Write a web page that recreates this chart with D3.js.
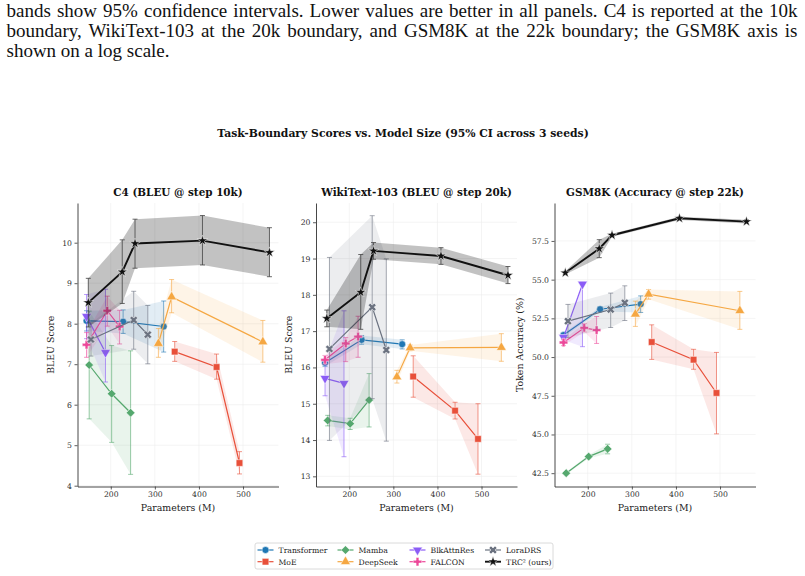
<!DOCTYPE html>
<html>
<head>
<meta charset="utf-8">
<title>Task-Boundary Scores vs. Model Size</title>
<script src="https://cdnjs.cloudflare.com/ajax/libs/d3/7.8.5/d3.min.js"></script>
<style>
  body { margin: 0; background: white; }
  svg { display: block; }
  text { font-family: "DejaVu Serif", serif; }
  .caption { font-family: "Liberation Serif", "Times New Roman", serif; font-size: 19px; fill: #111; }
  .tick text { font-size: 7.7px; fill: #333; font-family: "DejaVu Serif", serif; }
</style>
</head>
<body>
<svg id="fig" width="805" height="576"></svg>
<script>
// caption lines (the first two are justified)
const captionLines = [
  "bands show 95% confidence intervals. Lower values are better in all panels. C4 is reported at the 10k",
  "boundary, WikiText-103 at the 20k boundary, and GSM8K at the 22k boundary; the GSM8K axis is",
  "shown on a log scale."
];

const models = ["Transformer", "MoE", "Mamba", "DeepSeek", "BlkAttnRes", "FALCON", "LoraDRS", "TRC\u00b2 (ours)"];
const colors = ["#1f77b4", "#e8503a", "#55a86e", "#f5a742", "#8b5cf6", "#ec4899", "#6b7280", "#111111"];

// parameter counts (M) per model
const params = [
  [145, 228, 320],
  [345, 440, 492],
  [151, 202, 245],
  [308, 338, 545],
  [145, 188],
  [145, 192, 220],
  [155, 252, 284],
  [149, 226, 255, 408, 560]
];

// C4 (BLEU @ step 10k)
const c4Mean = [
  [8.07, 8.05, 7.93], [7.31, 6.93, 4.56], [6.98, 6.27, 5.80], [7.51, 8.66, 7.55],
  [8.18, 7.29], [7.48, 8.32, 7.93], [7.61, 8.09, 7.73], [8.52, 9.28, 9.98, 10.05, 9.76]
];
const c4Lo = [
  [7.82, 7.76, 7.30], [7.07, 6.63, 4.29], [5.65, 5.07, 4.28], [7.17, 8.27, 7.05],
  [7.63, 6.56], [7.17, 7.94, 7.50], [7.20, 7.37, 7.01], [7.92, 8.50, 9.37, 9.45, 9.16]
];
const c4Hi = [
  [8.32, 8.34, 8.56], [7.56, 7.25, 4.84], [8.31, 7.46, 7.33], [7.88, 9.09, 8.08],
  [8.72, 8.85], [7.78, 8.68, 8.33], [8.02, 8.80, 8.45], [9.12, 10.07, 10.58, 10.67, 10.37]
];

// WikiText-103 (BLEU @ step 20k)
const wtMean = [
  [16.13, 16.76, 16.64], [15.75, 14.81, 14.03], [14.54, 14.45, 15.10], [15.74, 16.54, 16.55],
  [15.70, 15.56], [16.21, 16.66, 16.85], [16.51, 17.66, 16.48], [17.35, 18.07, 19.21, 19.07, 18.54]
];
const wtLo = [
  [16.03, 16.64, 16.51], [15.18, 14.58, 13.06], [14.39, 14.29, 14.36], [15.57, 16.46, 16.17],
  [15.22, 13.54], [16.09, 16.16, 16.28], [13.99, 15.14, 13.97], [17.12, 17.05, 18.98, 18.84, 18.31]
];
const wtHi = [
  [16.23, 16.88, 16.76], [16.32, 15.04, 15.00], [14.68, 14.60, 15.83], [15.92, 16.62, 16.93],
  [16.18, 17.56], [16.33, 16.82, 17.41], [19.03, 20.18, 18.99], [17.58, 19.11, 19.44, 19.30, 18.78]
];

// GSM8K (Accuracy @ step 22k)
const gsmMean = [
  [51.42, 53.09, 53.42], [50.97, 49.83, 47.68], [42.50, 43.57, 44.07], [52.77, 54.06, 52.99],
  [51.27, 54.71], [50.94, 51.89, 51.74], [52.32, 53.07, 53.50], [55.44, 57.00, 57.87, 58.96, 58.75]
];
const gsmLo = [
  [51.30, 52.94, 52.88], [49.85, 49.21, 45.04], [42.42, 43.47, 43.75], [51.98, 53.74, 51.79],
  [51.10, 50.67], [50.74, 51.62, 50.88], [51.25, 51.91, 52.36], [55.34, 56.42, 57.77, 58.86, 58.63]
];
const gsmHi = [
  [51.54, 53.24, 53.95], [52.08, 50.50, 50.30], [42.58, 43.67, 44.37], [53.61, 54.36, 54.24],
  [51.44, 54.85], [51.14, 52.16, 52.62], [53.40, 54.13, 54.60], [55.54, 57.58, 57.97, 59.06, 58.87]
];

const xTicks = [200, 300, 400, 500];
const c4Ticks = [4, 5, 6, 7, 8, 9, 10];
const wtTicks = [13, 14, 15, 16, 17, 18, 19, 20];
const gsmTicks = [42.5, 45, 47.5, 50, 52.5, 55, 57.5];

const panels = [
  {title: "C4 (BLEU @ step 10k)", ylabel: "BLEU Score", mean: c4Mean, lo: c4Lo, hi: c4Hi,
   ydom: [3.98, 10.98], ticks: c4Ticks, fmt: d3.format("d"), left: 77.5, labOff: 24},
  {title: "WikiText-103 (BLEU @ step 20k)", ylabel: "BLEU Score", mean: wtMean, lo: wtLo, hi: wtHi,
   ydom: [12.72, 20.53], ticks: wtTicks, fmt: d3.format("d"), left: 316, labOff: 24},
  {title: "GSM8K (Accuracy @ step 22k)", ylabel: "Token Accuracy (%)", mean: gsmMean, lo: gsmLo, hi: gsmHi,
   ydom: [41.64, 59.95], ticks: gsmTicks, fmt: d3.format(".1f"), left: 554.5, labOff: 32}
];

const W = 201, TOP = 203, BOT = 486.5;
const svg = d3.select("#fig");

// caption
captionLines.forEach((s, i) => {
  const t = svg.append("text").attr("class", "caption")
    .attr("x", 6.5).attr("y", 17 + i * 19.8).text(s);
  if (i < 2) {
    const nat = t.node().getComputedTextLength();
    const spaces = s.split(" ").length - 1;
    t.attr("word-spacing", (791 - nat) / spaces);
  }
});

svg.append("text")
  .attr("x", 403).attr("y", 137)
  .attr("text-anchor", "middle")
  .style("font-weight", "bold").style("font-size", "10.8px").style("fill", "#111")
  .text("Task-Boundary Scores vs. Model Size (95% CI across 3 seeds)");

function symbolFor(i) {
  const types = [d3.symbolCircle, d3.symbolSquare, d3.symbolSquare, d3.symbolTriangle,
                 d3.symbolTriangle, d3.symbolCross, d3.symbolCross, d3.symbolStar];
  const sizes = [38, 44, 38, 42, 42, 40, 40, 34];
  return d3.symbol(types[i], sizes[i])();
}
const rotations = [0, 0, 45, 0, 180, 0, 45, 0];

panels.forEach(p => {
  const g = svg.append("g");
  const x = d3.scaleLinear([124.5, 580.5], [p.left, p.left + W]);
  const y = d3.scaleLinear(p.ydom, [BOT, TOP]);

  // grid
  g.selectAll(".gx").data(xTicks).join("line")
    .attr("x1", d => x(d)).attr("x2", d => x(d)).attr("y1", TOP).attr("y2", BOT)
    .attr("stroke", "#ececec").attr("stroke-width", 0.6);
  g.selectAll(".gy").data(p.ticks).join("line")
    .attr("x1", p.left).attr("x2", p.left + W).attr("y1", d => y(d)).attr("y2", d => y(d))
    .attr("stroke", "#ececec").attr("stroke-width", 0.6);

  // series
  models.forEach((m, i) => {
    const c = colors[i];
    const isOurs = i === 7;
    const pts = params[i].map((v, j) => ({x: v, m: p.mean[i][j], lo: p.lo[i][j], hi: p.hi[i][j]}));
    const sg = g.append("g");

    sg.append("path").datum(pts)
      .attr("d", d3.area().x(d => x(d.x)).y0(d => y(d.lo)).y1(d => y(d.hi)))
      .attr("fill", isOurs ? "#000" : c)
      .attr("fill-opacity", isOurs ? 0.24 : 0.13);

    const eb = sg.selectAll(".eb").data(pts).join("g")
      .attr("stroke", isOurs ? "#444" : c).attr("stroke-opacity", isOurs ? 0.8 : 0.6)
      .attr("stroke-width", 1);
    eb.append("line").attr("x1", d => x(d.x)).attr("x2", d => x(d.x))
      .attr("y1", d => y(d.lo)).attr("y2", d => y(d.hi));
    eb.append("line").attr("x1", d => x(d.x) - 2.5).attr("x2", d => x(d.x) + 2.5)
      .attr("y1", d => y(d.lo)).attr("y2", d => y(d.lo));
    eb.append("line").attr("x1", d => x(d.x) - 2.5).attr("x2", d => x(d.x) + 2.5)
      .attr("y1", d => y(d.hi)).attr("y2", d => y(d.hi));

    sg.append("path").datum(pts)
      .attr("d", d3.line().x(d => x(d.x)).y(d => y(d.m)))
      .attr("fill", "none").attr("stroke", c)
      .attr("stroke-width", isOurs ? 1.9 : 1.2);

    sg.selectAll(".mk").data(pts).join("path")
      .attr("d", symbolFor(i))
      .attr("transform", d => `translate(${x(d.x)},${y(d.m)}) rotate(${rotations[i]})`)
      .attr("fill", c).attr("stroke", "white").attr("stroke-width", 0.5);
  });

  // axes
  const ax = g.append("g").attr("transform", `translate(0,${BOT})`)
    .call(d3.axisBottom(x).tickValues(xTicks).tickSize(3).tickSizeOuter(0).tickPadding(2.5));
  const ay = g.append("g").attr("transform", `translate(${p.left},0)`)
    .call(d3.axisLeft(y).tickValues(p.ticks).tickFormat(p.fmt).tickSize(3).tickSizeOuter(0).tickPadding(2.5));
  [ax, ay].forEach(a => {
    a.select(".domain").attr("stroke", "#333").attr("stroke-width", 0.9);
    a.selectAll(".tick line").attr("stroke", "#333").attr("stroke-width", 0.8);
  });

  g.append("text")
    .attr("x", p.left + W / 2).attr("y", 196)
    .attr("text-anchor", "middle")
    .style("font-weight", "bold").style("font-size", "10.4px").style("fill", "#111")
    .text(p.title);

  g.append("text")
    .attr("x", p.left + W / 2).attr("y", 511)
    .attr("text-anchor", "middle")
    .style("font-size", "9.4px").style("fill", "#222")
    .text("Parameters (M)");

  g.append("text")
    .attr("transform", `translate(${p.left - p.labOff},${(TOP + BOT) / 2}) rotate(-90)`)
    .attr("text-anchor", "middle")
    .style("font-size", "9.4px").style("fill", "#222")
    .text(p.ylabel);
});

// legend
const lg = svg.append("g");
lg.append("rect").attr("x", 255).attr("y", 543).attr("width", 298).attr("height", 26)
  .attr("rx", 2).attr("fill", "white").attr("stroke", "#d0d0d0").attr("stroke-width", 0.8);
const colX = [257.5, 337.5, 409.5, 485];
models.forEach((m, i) => {
  const cx = colX[Math.floor(i / 2)];
  const cy = 550 + (i % 2) * 11.7;
  const it = lg.append("g").attr("transform", `translate(${cx},${cy})`);
  it.append("line").attr("x1", 0).attr("x2", 16).attr("y1", 0).attr("y2", 0)
    .attr("stroke", colors[i]).attr("stroke-width", i === 7 ? 1.9 : 1.2);
  it.append("path").attr("d", symbolFor(i))
    .attr("transform", `translate(8,0) rotate(${rotations[i]})`)
    .attr("fill", colors[i]).attr("stroke", "white").attr("stroke-width", 0.5);
  it.append("text").attr("x", 21).attr("y", 2.8)
    .style("font-size", "7.7px").style("fill", "#222").text(m);
});
</script>
</body>
</html>
